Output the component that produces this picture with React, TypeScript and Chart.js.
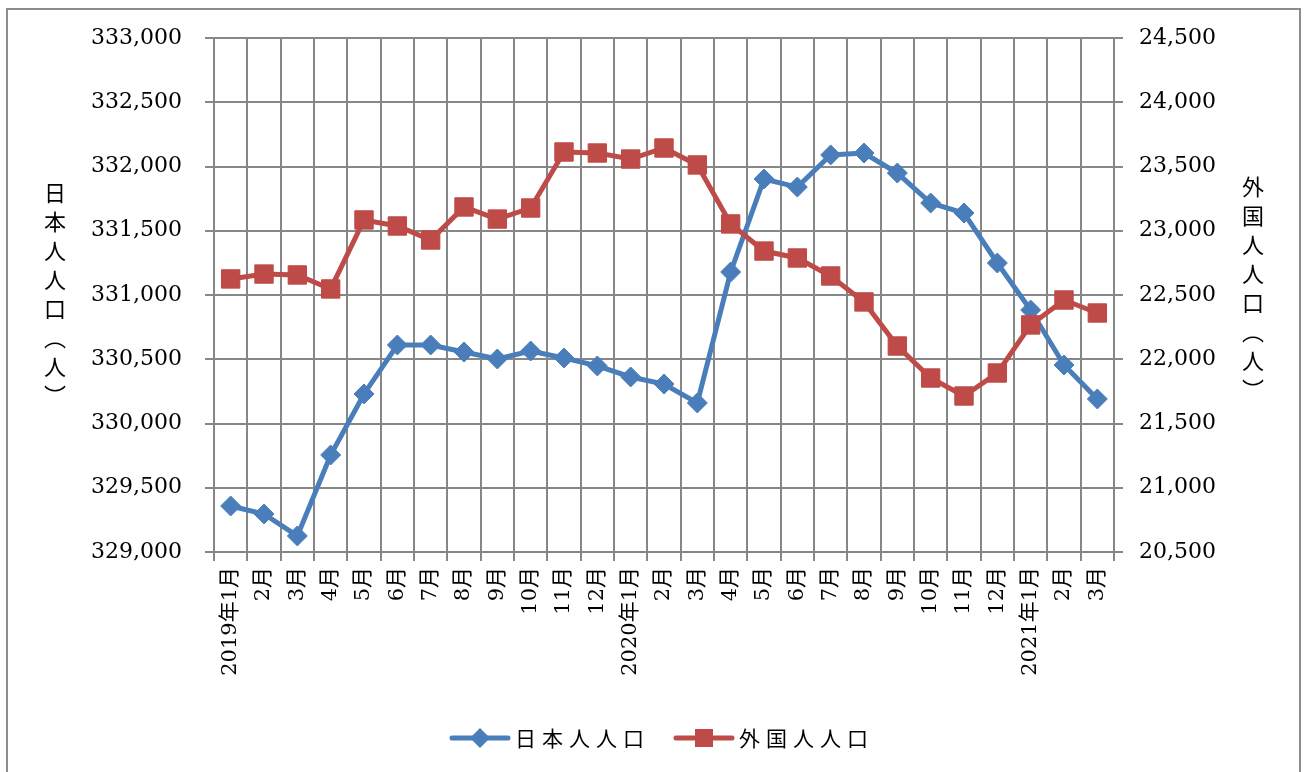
import { useEffect, useRef } from 'react';
import { Chart, registerables } from 'chart.js';

Chart.register(...registerables);

// Monthly categories (2019年1月 – 2021年3月)
const months: string[] = [
  '2019年1月', '2月', '3月', '4月', '5月', '6月', '7月', '8月', '9月', '10月', '11月', '12月',
  '2020年1月', '2月', '3月', '4月', '5月', '6月', '7月', '8月', '9月', '10月', '11月', '12月',
  '2021年1月', '2月', '3月',
];

// 日本人人口 (left axis)
const japanesePopulation: number[] = [
  329358, 329296, 329125, 329755, 330230, 330611, 330611, 330556, 330502, 330564, 330510, 330448,
  330362, 330307, 330160, 331179, 331903, 331840, 332090, 332105, 331949, 331716, 331638, 331249,
  330883, 330455, 330191,
];

// 外国人人口 (right axis)
const foreignPopulation: number[] = [
  22625, 22663, 22656, 22547, 23084, 23037, 22928, 23185, 23091, 23177, 23613, 23605,
  23558, 23644, 23512, 23053, 22842, 22788, 22648, 22446, 22103, 21854, 21714, 21893,
  22267, 22461, 22360,
];

const leftAxisRange = { min: 329000, max: 333000, step: 500 };
const rightAxisRange = { min: 20500, max: 24500, step: 500 };

const seriesNames = ['日本人人口', '外国人人口'];
const leftAxisTitle = '日本人人口（人）';
const rightAxisTitle = '外国人人口（人）';

const BLUE = '#4a7ebb';
const RED = '#be4b48';
const GRID = '#878787';
const SERIF = "'DejaVu Serif', 'Noto Sans CJK JP', serif";
const CJK = "'Noto Sans CJK JP', sans-serif";

const fmt = (v: number) => v.toLocaleString('en-US');

// Draws the line-and-marker legend beneath the axis labels
const bottomLegend = {
  id: 'bottomLegend',
  afterDraw(chart: Chart) {
    const ctx = chart.ctx;
    const y = 738;
    const items = [
      { name: seriesNames[0], color: BLUE, x: 452, marker: 'diamond' },
      { name: seriesNames[1], color: RED, x: 676, marker: 'square' },
    ];
    ctx.save();
    for (const it of items) {
      ctx.strokeStyle = it.color;
      ctx.lineWidth = 5;
      ctx.lineCap = 'round';
      ctx.beginPath();
      ctx.moveTo(it.x, y);
      ctx.lineTo(it.x + 56, y);
      ctx.stroke();
      const cx = it.x + 28;
      ctx.fillStyle = it.color;
      ctx.beginPath();
      if (it.marker === 'diamond') {
        ctx.moveTo(cx, y - 10);
        ctx.lineTo(cx + 10, y);
        ctx.lineTo(cx, y + 10);
        ctx.lineTo(cx - 10, y);
        ctx.closePath();
      } else {
        ctx.rect(cx - 9, y - 9, 18, 18);
      }
      ctx.fill();
      ctx.fillStyle = '#000';
      ctx.font = `21px ${CJK}`;
      ctx.textBaseline = 'middle';
      ctx.textAlign = 'left';
      let tx = it.x + 63;
      for (const ch of it.name) {
        ctx.fillText(ch, tx, y);
        tx += 27;
      }
    }
    ctx.restore();
  },
};

export default function App() {
  const canvasRef = useRef<HTMLCanvasElement | null>(null);

  useEffect(() => {
    document.body.style.margin = '0';
    const canvas = canvasRef.current;
    if (!canvas) return;
    const chart = new Chart(canvas, {
      type: 'line',
      data: {
        labels: months,
        datasets: [
          {
            label: seriesNames[0],
            data: japanesePopulation,
            yAxisID: 'yLeft',
            borderColor: BLUE,
            backgroundColor: BLUE,
            borderWidth: 5,
            pointStyle: 'rectRot',
            pointRadius: 10,
            pointBackgroundColor: BLUE,
            pointBorderColor: BLUE,
            pointBorderWidth: 1,
            tension: 0,
            order: 1,
          },
          {
            label: seriesNames[1],
            data: foreignPopulation,
            yAxisID: 'yRight',
            borderColor: RED,
            backgroundColor: RED,
            borderWidth: 5,
            pointStyle: 'rect',
            pointRadius: 13,
            pointBackgroundColor: RED,
            pointBorderColor: RED,
            pointBorderWidth: 1,
            tension: 0,
            order: 0,
          },
        ],
      },
      options: {
        responsive: false,
        animation: false,
        devicePixelRatio: 1,
        layout: { padding: { top: 38, bottom: 70, left: 0, right: 0 } },
        plugins: {
          legend: { display: false },
          tooltip: { enabled: false },
        },
        scales: {
          x: {
            type: 'category',
            offset: true,
            grid: {
              offset: true,
              color: GRID,
              lineWidth: 2,
              tickLength: 9,
              drawTicks: true,
            },
            border: { color: GRID, width: 2 },
            ticks: {
              autoSkip: false,
              minRotation: 90,
              maxRotation: 90,
              padding: 6,
              color: '#000',
              font: { family: SERIF, size: 21 },
            },
            afterFit(scale: any) {
              scale.height = 150;
            },
          },
          yLeft: {
            type: 'linear',
            position: 'left',
            min: leftAxisRange.min,
            max: leftAxisRange.max,
            grid: { color: GRID, lineWidth: 2, tickLength: 9 },
            border: { color: GRID, width: 2 },
            ticks: {
              stepSize: leftAxisRange.step,
              padding: 23,
              color: '#000',
              font: { family: SERIF, size: 22 },
              callback: (v: any) => fmt(Number(v)),
            },
            afterFit(scale: any) {
              scale.width = 214;
            },
          },
          yRight: {
            type: 'linear',
            position: 'right',
            min: rightAxisRange.min,
            max: rightAxisRange.max,
            grid: { drawOnChartArea: false, color: GRID, lineWidth: 2, tickLength: 9 },
            border: { color: GRID, width: 2 },
            ticks: {
              stepSize: rightAxisRange.step,
              padding: 16,
              color: '#000',
              font: { family: SERIF, size: 22 },
              callback: (v: any) => fmt(Number(v)),
            },
            afterFit(scale: any) {
              scale.width = 196;
            },
          },
        },
      },
      plugins: [bottomLegend],
    });
    return () => chart.destroy();
  }, []);

  const titleStyle: React.CSSProperties = {
    position: 'absolute',
    writingMode: 'vertical-rl',
    fontFamily: CJK,
    fontSize: 22,
    letterSpacing: 7,
    lineHeight: '22px',
    color: '#000',
    whiteSpace: 'nowrap',
  };

  return (
    <div style={{ position: 'relative', width: 1310, height: 772, background: '#fff', overflow: 'hidden' }}>
      <div
        style={{
          position: 'absolute',
          left: 6,
          top: 8,
          width: 1295,
          height: 780,
          border: '2px solid #8c8c8c',
          boxSizing: 'border-box',
        }}
      />
      <canvas ref={canvasRef} width={1310} height={772} style={{ position: 'absolute', left: 0, top: 0 }} />
      <div style={{ ...titleStyle, left: 44, top: 182 }}>{leftAxisTitle}</div>
      <div style={{ ...titleStyle, left: 1242, top: 176 }}>{rightAxisTitle}</div>
    </div>
  );
}
